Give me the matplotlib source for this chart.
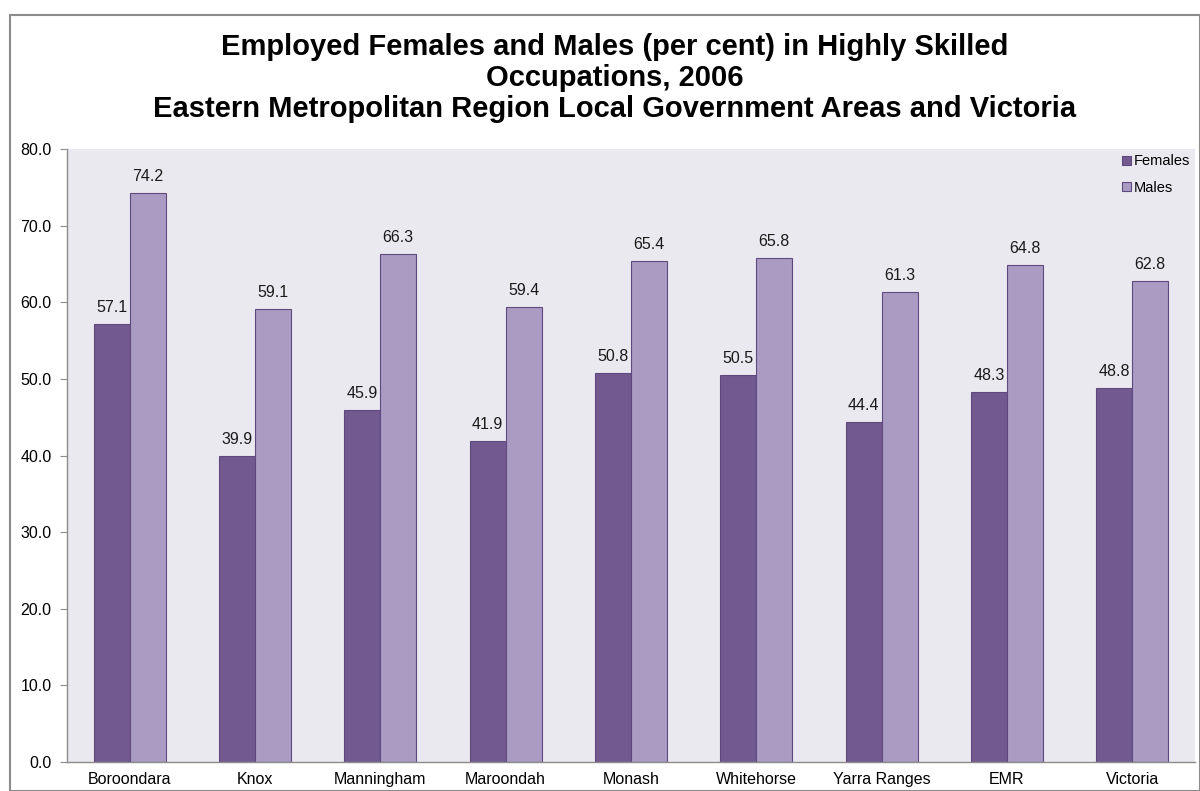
import matplotlib
matplotlib.use("Agg")
import matplotlib.pyplot as plt
import numpy as np
from matplotlib.patches import Rectangle

plt.rcParams['font.family'] = ['Liberation Sans', 'DejaVu Sans']

categories = ["Boroondara", "Knox", "Manningham", "Maroondah", "Monash",
              "Whitehorse", "Yarra Ranges", "EMR", "Victoria"]
females = [57.1, 39.9, 45.9, 41.9, 50.8, 50.5, 44.4, 48.3, 48.8]
males = [74.2, 59.1, 66.3, 59.4, 65.4, 65.8, 61.3, 64.8, 62.8]
yticks = [0, 10, 20, 30, 40, 50, 60, 70, 80]

fem_color = "#72598F"
male_color = "#A99BC2"
edge_color = "#5E4A7E"

fig = plt.figure(figsize=(12, 7.91), dpi=100)
W, H = 1200, 791
ax = fig.add_axes([67 / W, 1 - 762 / H, (1195 - 67) / W, (762 - 149) / H])
ax.set_facecolor("#EBE9F0")

# outer frame of the chart
fig.patches.append(Rectangle((10 / W, 0), 1 - 10 / W, 1 - 15 / H, transform=fig.transFigure,
                             fill=False, edgecolor="#8C8C8C", linewidth=1.5))

x = np.arange(len(categories))
bw = 0.286
b1 = ax.bar(x - bw / 2, females, bw, color=fem_color, edgecolor=edge_color,
            linewidth=0.8, label="Females")
b2 = ax.bar(x + bw / 2, males, bw, color=male_color, edgecolor=edge_color,
            linewidth=0.8, label="Males")

for bars, vals in ((b1, females), (b2, males)):
    for rect, v in zip(bars, vals):
        ax.annotate(f"{v:.1f}", (rect.get_x() + rect.get_width() / 2, v),
                    xytext=(0, 6.5), textcoords="offset points",
                    ha="center", va="bottom", fontsize=11.5, color="#1a1a1a")

ax.set_xlim(-0.5, len(categories) - 0.5)
ax.set_ylim(0, 80)
ax.set_yticks(yticks)
ax.set_yticklabels([f"{t:.1f}" for t in yticks], fontsize=11.5)
ax.set_xticks(x)
ax.set_xticklabels(categories, fontsize=11.5)
ax.tick_params(axis="x", length=0, pad=7)
ax.tick_params(axis="y", length=5, color="#8C8C8C", pad=6)
for s in ("top", "right"):
    ax.spines[s].set_visible(False)
for s in ("left", "bottom"):
    ax.spines[s].set_color("#8C8C8C")
    ax.spines[s].set_linewidth(1.0)

fig.text(0.5125, 1 - 33 / H,
         "Employed Females and Males (per cent) in Highly Skilled\nOccupations, 2006\n"
         "Eastern Metropolitan Region Local Government Areas and Victoria",
         ha="center", va="top", fontsize=21, fontweight="bold", linespacing=1.13)

leg = ax.legend(loc="upper left", bbox_to_anchor=(1115 / W, 1 - 147 / H),
                bbox_transform=fig.transFigure, frameon=False, fontsize=10.5,
                handlelength=0.6, handleheight=0.6, handletextpad=0.2,
                labelspacing=0.85, borderpad=0)

fig.savefig("out.png", dpi=100)
